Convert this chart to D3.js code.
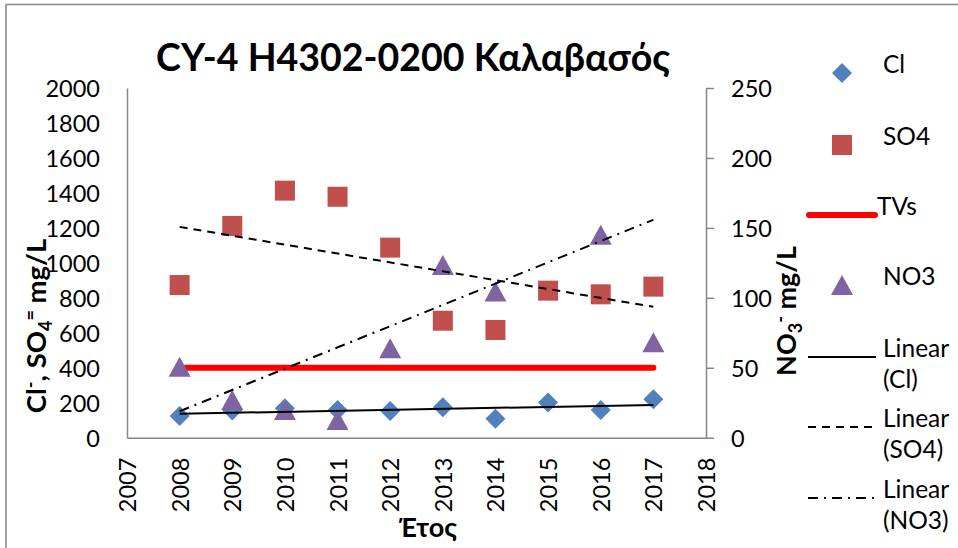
<!DOCTYPE html>
<html><head><meta charset="utf-8">
<script src="https://cdn.jsdelivr.net/npm/d3@7"></script>
<style>
body{margin:0;background:#fff;}
svg{display:block;font-family:Lato,"Noto Sans",sans-serif;}
</style></head>
<body><svg id="c" width="958" height="548"></svg>
<script>
const years = [2008,2009,2010,2011,2012,2013,2014,2015,2016,2017];
const clValues = [124,155,168,158,153,174,109,202,158,220];
const so4Values = [873,1211,1413,1378,1087,669,616,841,820,864];
const no3Years = [2008,2009,2010,2011,2012,2013,2014,2015,2016,2017];
const no3Values = [50.8,27,19.8,12.7,63.9,123.5,104.6,258,145,68.2];
const tvValue = 400;
const xTicks = [2007,2008,2009,2010,2011,2012,2013,2014,2015,2016,2017,2018];
const leftTicks = [0,200,400,600,800,1000,1200,1400,1600,1800,2000];
const rightTicks = [0,50,100,150,200,250];
const legendLabels = [["Cl"],["SO4"],["TVs"],["NO3"],["Linear","(Cl)"],["Linear","(SO4)"],["Linear","(NO3)"]];

const svg = d3.select("#c");
const L=127,R=706,T=88,B=437.7;
const x = d3.scaleLinear().domain([2007,2018]).range([L,R]);
const yL = d3.scaleLinear().domain([0,2000]).range([B,T]);
const yR = d3.scaleLinear().domain([0,250]).range([B,T]);
const axisCol="#868686";
const fs=23.5;

// outer border
svg.append("rect").attr("x",6).attr("y",4.5).attr("width",980).attr("height",600)
  .attr("fill","none").attr("stroke",axisCol).attr("stroke-width",1.5);

svg.append("defs").append("clipPath").attr("id","pc").append("rect")
  .attr("x",L-12).attr("y",T).attr("width",R-L+24).attr("height",B-T+12);

// axes
const gx = svg.append("g").attr("transform",`translate(0,${B})`)
  .call(d3.axisBottom(x).tickValues(xTicks).tickFormat(d3.format("d")).tickSize(0).tickSizeOuter(0));
gx.selectAll("text").attr("transform","rotate(-90)").attr("x",-20).attr("y",0)
  .attr("dy","0.36em").attr("text-anchor","end");
const gl = svg.append("g").attr("transform",`translate(${L},0)`)
  .call(d3.axisLeft(yL).tickValues(leftTicks).tickFormat(d3.format("d")).tickSize(0).tickSizeOuter(0).tickPadding(27));
gl.selectAll("text").attr("dy","0.36em");
const gr = svg.append("g").attr("transform",`translate(${R},0)`)
  .call(d3.axisRight(yR).tickValues(rightTicks).tickFormat(d3.format("d")).tickSize(8).tickSizeOuter(0).tickPadding(17));
gr.selectAll("text").attr("dy","0.36em");
[gx,gl,gr].forEach(g=>{
  g.selectAll("text").attr("font-size",fs).attr("fill","#000").attr("font-family",'Lato,"Noto Sans",sans-serif');
  g.selectAll("path,line").attr("stroke",axisCol).attr("stroke-width",1.5);
});

const plot = svg.append("g").attr("clip-path","url(#pc)");
// Cl diamonds
plot.selectAll(".cl").data(years.map((y,i)=>[y,clValues[i]])).join("path")
  .attr("d",d3.symbol().type(d3.symbolSquare).size(200)())
  .attr("transform",d=>`translate(${x(d[0])},${yL(d[1])}) rotate(45)`)
  .attr("fill","#4F81BD");
// SO4 squares
plot.selectAll(".so").data(years.map((y,i)=>[y,so4Values[i]])).join("rect")
  .attr("x",d=>x(d[0])-10).attr("y",d=>yL(d[1])-10).attr("width",20).attr("height",20)
  .attr("fill","#C0504D");
// TVs line
plot.append("line").attr("x1",x(years[0])).attr("x2",x(years[years.length-1]))
  .attr("y1",yL(tvValue)).attr("y2",yL(tvValue))
  .attr("stroke","#FF0000").attr("stroke-width",6).attr("stroke-linecap","round");
// NO3 triangles
const tri = "M0,-10L11,10L-11,10Z";
const no3Clip = svg.append("g").attr("clip-path","url(#pc)");
no3Clip.selectAll(".no").data(no3Years.map((y,i)=>[y,no3Values[i]])).join("path")
  .attr("d",tri).attr("transform",d=>`translate(${x(d[0])},${yR(d[1])})`)
  .attr("fill","#8064A2");

// trend lines (least squares)
function fit(xs,ys){
  const mx=d3.mean(xs),my=d3.mean(ys);
  const s=d3.sum(xs,(v,i)=>(v-mx)*(ys[i]-my))/d3.sum(xs,v=>(v-mx)*(v-mx));
  return v=>my+s*(v-mx);
}
function trend(xs,ys,sc,dash){
  const f=fit(xs,ys);const x0=d3.min(xs),x1=d3.max(xs);
  svg.append("line").attr("x1",x(x0)).attr("x2",x(x1)).attr("y1",sc(f(x0))).attr("y2",sc(f(x1)))
    .attr("stroke","#000").attr("stroke-width",2).attr("stroke-dasharray",dash);
}
trend(years,clValues,yL,null);
trend(years,so4Values,yL,"8,6");
trend(no3Years,no3Values,yR,"10,6,2,6");

// titles
svg.append("text").attr("x",413).attr("y",71).attr("text-anchor","middle")
  .attr("font-size",37.5).attr("font-weight","bold").text("CY-4 H4302-0200 Καλαβασός");
const lt = svg.append("text").attr("transform","translate(46,326) rotate(-90)")
  .attr("text-anchor","middle").attr("font-size",27.5).attr("font-weight","bold");
lt.append("tspan").text("Cl");
lt.append("tspan").attr("dy",-9).attr("font-size",18).text("-");
lt.append("tspan").attr("dy",9).text(", SO");
lt.append("tspan").attr("dy",6).attr("font-size",18).text("4");
lt.append("tspan").attr("dy",-15).attr("font-size",18).text("=");
lt.append("tspan").attr("dy",9).text(" mg/L");
const rt = svg.append("text").attr("transform","translate(796,311) rotate(-90)")
  .attr("text-anchor","middle").attr("font-size",27).attr("font-weight","bold");
rt.append("tspan").text("NO");
rt.append("tspan").attr("dy",6).attr("font-size",18).text("3");
rt.append("tspan").attr("dy",-15).attr("font-size",18).text("-");
rt.append("tspan").attr("dy",9).text(" mg/L");
svg.append("text").attr("x",428).attr("y",537).attr("text-anchor","middle")
  .attr("font-size",27).attr("font-weight","bold").text("Έτος");

// legend
const lg = svg.append("g");
const rowY=[73,145,215,285,357,427,498];
lg.append("path").attr("d",d3.symbol().type(d3.symbolSquare).size(200)())
  .attr("transform",`translate(842,${rowY[0]}) rotate(45)`).attr("fill","#4F81BD");
lg.append("rect").attr("x",832).attr("y",rowY[1]-10).attr("width",20).attr("height",20).attr("fill","#C0504D");
lg.append("line").attr("x1",809).attr("x2",875).attr("y1",rowY[2]).attr("y2",rowY[2])
  .attr("stroke","#FF0000").attr("stroke-width",6).attr("stroke-linecap","round");
lg.append("path").attr("d",tri).attr("transform",`translate(842,${rowY[3]})`).attr("fill","#8064A2");
[[null,4],["8,6",5],["10,6,2,6",6]].forEach(([d,i])=>{
  lg.append("line").attr("x1",808).attr("x2",876).attr("y1",rowY[i]).attr("y2",rowY[i])
    .attr("stroke","#000").attr("stroke-width",2).attr("stroke-dasharray",d);
});
legendLabels.forEach((lab,i)=>{
  const t=lg.append("text").attr("font-size",24.5).attr("y",rowY[i]).attr("dy","0.36em");
  lab.forEach((s,j)=>t.append("tspan").attr("x", i===2?877:883).attr("dy",j?31:0).text(s));
});
</script></body></html>
